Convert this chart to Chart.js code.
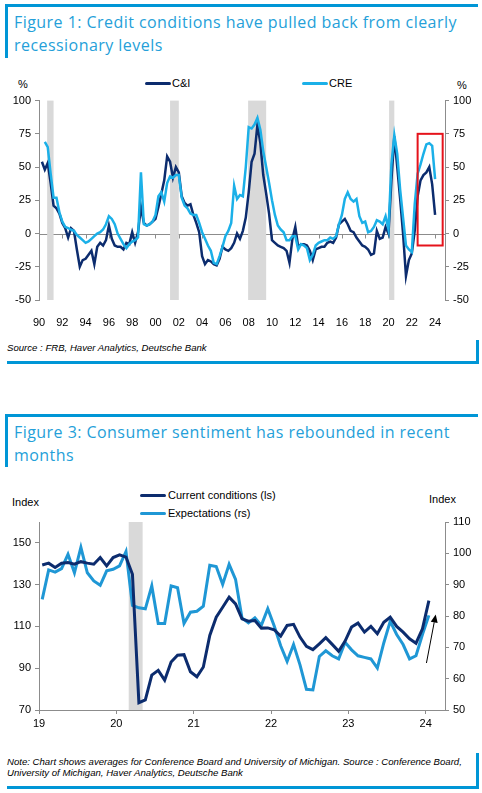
<!DOCTYPE html>
<html>
<head>
<meta charset="utf-8">
<script src="https://cdn.jsdelivr.net/npm/chart.js@4.4.1/dist/chart.umd.min.js"></script>
<style>
  body { margin: 0; width: 482px; height: 793px; position: relative; background: #fff; overflow: hidden;
         font-family: "Liberation Sans", Arial, sans-serif; color: #000; }
  .abs { position: absolute; white-space: nowrap; }
  .tbox { position: absolute; border-top: 3px solid #0096d6; border-left: 3px solid #0096d6; box-sizing: border-box; }
  .bbox { position: absolute; border-bottom: 3px solid #0096d6; border-right: 3px solid #0096d6; box-sizing: border-box; }
  .title { position: absolute; color: #259fd9; font-family: "Open Sans", sans-serif; font-size: 16px; letter-spacing: 0.45px; line-height: 23px; white-space: nowrap; }
  .small { font-size: 11px; line-height: 13px; }
  .note { font-size: 9.6px; line-height: 11px; font-style: italic; }
  .key { position: absolute; height: 3px; border-radius: 2px; }
  canvas { position: absolute; left: 0; }
</style>
</head>
<body>

<!-- Figure 1 -->
<div class="tbox" style="left:5px;top:4px;width:473px;height:54px;"></div>
<div class="title" style="left:14px;top:11px;">Figure 1: Credit conditions have pulled back from clearly<br>recessionary levels</div>

<div class="abs small" style="left:18px;top:78px;">%</div>
<div class="abs small" style="left:457px;top:79px;">%</div>
<div class="key" style="left:145px;top:82px;width:26px;background:#0c2c6e;"></div>
<div class="abs small" style="left:172px;top:77px;">C&amp;I</div>
<div class="key" style="left:302px;top:82px;width:26px;background:#1bb0e8;"></div>
<div class="abs small" style="left:329px;top:77px;">CRE</div>

<canvas id="fig1" width="482" height="240" style="top:90px;"></canvas>

<div class="bbox" style="left:7px;top:340px;width:472px;height:24px;"></div>
<div class="abs note" style="left:7px;top:342px;">Source : FRB, Haver Analytics, Deutsche Bank</div>

<!-- Figure 3 -->
<div class="tbox" style="left:5px;top:414px;width:473px;height:53px;"></div>
<div class="title" style="left:14px;top:421px;">Figure 3: Consumer sentiment has rebounded in recent<br>months</div>

<div class="abs small" style="left:12px;top:496px;">Index</div>
<div class="abs small" style="left:429px;top:493px;">Index</div>
<div class="key" style="left:140px;top:494px;width:26px;background:#0c2c6e;"></div>
<div class="abs small" style="left:168px;top:489px;">Current conditions (ls)</div>
<div class="key" style="left:140px;top:512px;width:26px;background:#1f97d5;"></div>
<div class="abs small" style="left:168px;top:507px;">Expectations (rs)</div>

<canvas id="fig3" width="482" height="230" style="top:510px;"></canvas>

<div class="bbox" style="left:7px;top:753px;width:472px;height:36px;"></div>
<div class="abs note" style="left:7px;top:756px;">Note: Chart shows averages for Conference Board and University of Michigan. Source : Conference Board,<br>University of Michigan, Haver Analytics, Deutsche Bank</div>

<script>
// ---- Figure 1: SLOOS net % tightening, quarterly from 1990 Q2 ----
const fig1Start = 1990.25;
const fig1Step = 0.25;
const ciValues = [
  54, 48, 53, 38, 21, 19, 15, 8, 4, -3, 4, 2, -12, -25, -20, -19, -16, -13, -23, -10,
  -7, -9, -5, 6, -4, -9, -10, -10, -12, -7, -8, 1, -7, 1, 20, 8, 6, 7, 9, 11,
  20, 30, 40, 58, 54, 42, 50, 46, 28, 23, 21, 22, 14, 8, 1, -17, -23, -20, -21, -23,
  -24, -19, -10, -12, -13, -11, -7, 0, -4, 2, 12, 31, 54, 60, 82, 68, 44, 30, 15, -5,
  -7, -9, -10, -11, -13, -22, -4, 5, -10, -8, -8, -9, -13, -20, -12, -11, -10, -10, -7, -6,
  -7, -3, 7, 9, 11, 7, 2, 1, -3, -6, -9, -10, -12, -16, -15, 2, -4, -3, 5, 0,
  40, 73, 50, 26, 0, -32, -20, -15, 2, 28, 40, 44, 46, 50, 37, 14
];
const creValues = [
  null, 69, 65, 45, 27, 27, 16, 9, 5, 4, 3, 2, -1, -3, -5, -7, -6, -4, -2, 0,
  1, 3, 7, 13, 11, 7, 0, -4, -8, -11, -8, -6, -5, -3, 46, 7, 6, 7, 9, 14,
  28, 31, 24, 38, 43, 42, 44, 44, 27, 21, 19, 15, 14, 14, 8, 1, -4, -9, -13, -22,
  -23, -17, -10, -2, 2, 8, 36, 26, 29, 28, 50, 80, 79, 82, 87, 78, 62, 50, 38, 25,
  14, 6, 3, 1, -5, -5, -2, -2, -12, -8, -9, -11, -20, -16, -9, -7, -6, -5, -5, -3,
  -4, -2, 7, 14, 26, 31, 26, 24, 26, 13, 8, 9, 1, 2, 5, 10, 9, 7, 13, 3,
  52, 74, 60, 33, 12, -9, -12, -14, 22, 45, 52, 60, 67, 68, 66, 41
];
const fig1YearTicks = [1990, 1992, 1994, 1996, 1998, 2000, 2002, 2004, 2006, 2008, 2010, 2012, 2014, 2016, 2018, 2020, 2022, 2024];
const fig1PctTicks = [-50, -25, 0, 25, 50, 75, 100];
const fig1Recessions = [[1990.7, 1991.25], [2001.25, 2002.0], [2007.95, 2009.5], [2020.05, 2020.5]];
const fig1Highlight = { from: 2022.5, to: 2024.65, top: 75, bottom: -9 };

// ---- Figure 3: consumer sentiment, monthly from Jan 2019 ----
const fig3Start = 2019 + 0.5 / 12;
const fig3Step = 1 / 12;
const currentConditions = [
  139.4, 140.3, 138.2, 140.3, 140.6, 139.8, 141, 140.3, 139.8, 143, 139, 143,
  144.3, 143.2, 135, 73.5, 74.8, 86.7, 89, 84.3, 93, 96.2, 96.5, 88.3,
  85.9, 90.6, 105.7, 114.4, 119.2, 124, 120.8, 113.6, 112.5, 112.8, 109.2, 109.3,
  108.4, 105.4, 110.5, 111, 104.9, 100.5, 98.9, 101.7, 104.6, 101.4, 98.1, 103,
  109.7, 111.6, 107.3, 110, 106.5, 112, 114.4, 110, 107.3, 104.1, 102, 108.9,
  122.4
];
const expectations = [
  85.3, 94.7, 94, 95.1, 99.7, 93.8, 101.9, 93.8, 91.2, 89.8, 94.4, 94.9,
  96, 100.6, 83.4, 82.6, 82.3, 89.6, 77.6, 77.6, 89.6, 89, 77.6, 81.2,
  81.5, 83.1, 96.2, 95.8, 90.1, 96.5, 91.7, 79.4, 77.8, 79.4, 77, 82.3,
  76.8, 70.5, 65.5, 70.9, 64.4, 56.6, 56.4, 67.1, 68.9, 67.3, 66.3, 71.6,
  69.2, 67.3, 66.8, 66.3, 63.4, 71.4, 78.3, 74.1, 70.9, 66.3, 67.3, 74.1,
  80.2
];
const fig3YearTicks = [2019, 2020, 2021, 2022, 2023, 2024];
const fig3LeftTicks = [70, 90, 110, 130, 150];
const fig3RightTicks = [50, 60, 70, 80, 90, 100, 110];
const fig3Recessions = [[2020.16, 2020.34]];
const fig3Arrow = { x0: 2024.01, y0: 65, x1: 2024.13, y1: 80.5 };

Chart.defaults.font.family = "'Liberation Sans', Arial, sans-serif";
Chart.defaults.font.size = 11;
Chart.defaults.color = "#000";
Chart.defaults.devicePixelRatio = 1;

const AXIS_GREY = "#8c8c8c";
const twoDigits = v => String(Math.round(v) % 100).padStart(2, "0");
const toPoints = (vals, start, step) => vals.map((v, i) => ({ x: start + i * step, y: v }));
const fixTicks = list => scale => { scale.ticks = list.map(v => ({ value: v })); };

// grey recession bands behind the lines
const bandsPlugin = {
  id: "bands",
  beforeDatasetsDraw(chart, args, opts) {
    const { ctx, chartArea: a, scales } = chart;
    ctx.save();
    ctx.fillStyle = "#d9d9d9";
    opts.periods.forEach(([s, e]) => {
      const x0 = scales.x.getPixelForValue(s);
      const x1 = scales.x.getPixelForValue(e);
      ctx.fillRect(x0, a.top, x1 - x0, a.bottom - a.top);
    });
    ctx.restore();
  }
};

// zero line with year tick marks (figure 1)
const zeroLinePlugin = {
  id: "zeroLine",
  beforeDatasetsDraw(chart) {
    const { ctx, chartArea: a, scales: { x, y } } = chart;
    const y0 = Math.round(y.getPixelForValue(0)) + 0.5;
    ctx.save();
    ctx.strokeStyle = AXIS_GREY;
    ctx.lineWidth = 1;
    ctx.beginPath();
    ctx.moveTo(a.left, y0);
    ctx.lineTo(a.right, y0);
    fig1YearTicks.forEach(t => {
      const px = Math.round(x.getPixelForValue(t)) + 0.5;
      ctx.moveTo(px, y0);
      ctx.lineTo(px, y0 + 4);
    });
    ctx.stroke();
    ctx.restore();
  }
};

// red box round the latest readings (figure 1)
const highlightPlugin = {
  id: "highlight",
  afterDatasetsDraw(chart) {
    const { ctx, scales: { x, y } } = chart;
    const h = fig1Highlight;
    const x0 = x.getPixelForValue(h.from), x1 = x.getPixelForValue(h.to);
    const y0 = y.getPixelForValue(h.top), y1 = y.getPixelForValue(h.bottom);
    ctx.save();
    ctx.strokeStyle = "#e5131b";
    ctx.lineWidth = 2;
    ctx.strokeRect(x0, y0, x1 - x0, y1 - y0);
    ctx.restore();
  }
};

// small black arrow (figure 3)
const arrowPlugin = {
  id: "arrow",
  afterDatasetsDraw(chart) {
    const { ctx, scales: { x, y2 } } = chart;
    const a = fig3Arrow;
    const sx = x.getPixelForValue(a.x0), sy = y2.getPixelForValue(a.y0);
    const ex = x.getPixelForValue(a.x1), ey = y2.getPixelForValue(a.y1);
    const ang = Math.atan2(ey - sy, ex - sx);
    const len = 8, wid = 3.5;
    const bx = ex - len * Math.cos(ang), by = ey - len * Math.sin(ang);
    ctx.save();
    ctx.strokeStyle = "#000";
    ctx.fillStyle = "#000";
    ctx.lineWidth = 1;
    ctx.beginPath();
    ctx.moveTo(sx, sy);
    ctx.lineTo(bx, by);
    ctx.stroke();
    ctx.beginPath();
    ctx.moveTo(ex, ey);
    ctx.lineTo(bx + wid * Math.sin(ang), by - wid * Math.cos(ang));
    ctx.lineTo(bx - wid * Math.sin(ang), by + wid * Math.cos(ang));
    ctx.closePath();
    ctx.fill();
    ctx.restore();
  }
};

function sideAxis(position, min, max, ticksList, width) {
  return {
    type: "linear",
    position: position,
    min: min,
    max: max,
    afterBuildTicks: fixTicks(ticksList),
    afterFit: scale => { scale.width = width; },
    border: { display: true, color: AXIS_GREY, width: 1 },
    grid: { display: true, drawOnChartArea: false, drawTicks: true, tickLength: 4, color: AXIS_GREY },
    ticks: { padding: 4, font: { size: 11 }, color: "#000" }
  };
}

// ---------- Figure 1 chart ----------
new Chart(document.getElementById("fig1"), {
  type: "line",
  data: {
    datasets: [
      {
        label: "CRE",
        data: toPoints(creValues, fig1Start, fig1Step),
        borderColor: "#1bb0e8",
        borderWidth: 2.5,
        pointRadius: 0,
        tension: 0,
        order: 0
      },
      {
        label: "C&I",
        data: toPoints(ciValues, fig1Start, fig1Step),
        borderColor: "#0c2c6e",
        borderWidth: 2.5,
        pointRadius: 0,
        tension: 0,
        order: 1
      }
    ]
  },
  options: {
    responsive: false,
    animation: false,
    layout: { padding: { top: 9, left: 0, right: 0, bottom: 0 } },
    plugins: {
      legend: { display: false },
      tooltip: { enabled: false },
      bands: { periods: fig1Recessions }
    },
    scales: {
      x: {
        type: "linear",
        min: 1990,
        max: 2024.85,
        afterBuildTicks: fixTicks(fig1YearTicks),
        afterFit: scale => { scale.height = 30; },
        border: { display: false },
        grid: { display: false },
        ticks: { padding: 8, maxRotation: 0, autoSkip: false, callback: v => twoDigits(v) }
      },
      y: sideAxis("left", -50, 100, fig1PctTicks, 39),
      y2: sideAxis("right", -50, 100, fig1PctTicks, 37)
    }
  },
  plugins: [zeroLinePlugin, bandsPlugin, highlightPlugin]
});

// ---------- Figure 3 chart ----------
new Chart(document.getElementById("fig3"), {
  type: "line",
  data: {
    datasets: [
      {
        label: "Current conditions (ls)",
        data: toPoints(currentConditions, fig3Start, fig3Step),
        yAxisID: "y",
        borderColor: "#0c2c6e",
        borderWidth: 3,
        pointRadius: 0,
        tension: 0,
        order: 0
      },
      {
        label: "Expectations (rs)",
        data: toPoints(expectations, fig3Start, fig3Step),
        yAxisID: "y2",
        borderColor: "#1f97d5",
        borderWidth: 3,
        pointRadius: 0,
        tension: 0,
        order: 1
      }
    ]
  },
  options: {
    responsive: false,
    animation: false,
    layout: { padding: { top: 12, left: 0, right: 0, bottom: 0 } },
    plugins: {
      legend: { display: false },
      tooltip: { enabled: false },
      bands: { periods: fig3Recessions }
    },
    scales: {
      x: {
        type: "linear",
        min: 2019,
        max: 2024.25,
        afterBuildTicks: fixTicks(fig3YearTicks),
        afterFit: scale => { scale.height = 30; },
        border: { display: true, color: AXIS_GREY, width: 1 },
        grid: { display: true, drawOnChartArea: false, drawTicks: true, tickLength: 4, color: AXIS_GREY },
        ticks: { padding: 3, maxRotation: 0, autoSkip: false, callback: v => twoDigits(v) }
      },
      y: sideAxis("left", 70, 160, fig3LeftTicks, 39),
      y2: sideAxis("right", 50, 110, fig3RightTicks, 37)
    }
  },
  plugins: [bandsPlugin, arrowPlugin]
});
</script>
</body>
</html>
